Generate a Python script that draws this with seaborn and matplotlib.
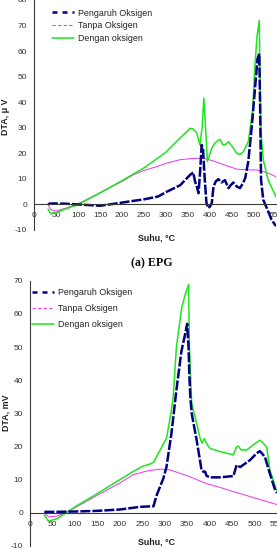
import matplotlib
matplotlib.use("Agg")
import matplotlib.pyplot as plt
from matplotlib.lines import Line2D
import seaborn as sns
import pandas as pd

# ---------------- data: panel (a) EPG ----------------
a_green_T = [32, 38, 50, 75, 101, 150, 200, 250, 286, 300, 332, 355, 362, 370, 377, 382, 386, 390, 394,
             404, 411, 418, 423, 429, 436, 442, 453, 461, 468, 476, 487, 497, 502, 507, 512, 514, 516,
             521, 532, 550]
a_green_v = [-1.8, -3.7, -3.2, -1.6, 0.0, 4.5, 9.3, 14.3, 18.7, 20.5, 26.0, 29.8, 29.5, 27.9, 23.3, 30.0,
             41.6, 30.0, 16.8, 22.0, 24.0, 25.0, 25.5, 23.3, 23.5, 24.6, 22.0, 20.0, 19.5, 20.7, 24.6,
             37.0, 54.0, 66.0, 72.0, 45.0, 28.0, 17.5, 9.6, 3.0]

a_mag_T = [32, 38, 50, 75, 101, 150, 200, 226, 250, 279, 302, 332, 360, 385, 408, 432, 461, 490, 506,
           520, 536, 550]
a_mag_v = [0.0, -2.0, -2.6, -1.3, 0.3, 4.6, 9.0, 11.6, 13.3, 14.8, 16.2, 17.5, 18.0, 18.1, 17.0, 15.5,
           13.8, 13.5, 13.5, 12.9, 12.0, 10.8]

a_navy_T = [32, 35, 44, 70, 100, 150, 180, 218, 250, 282, 302, 332, 355, 362, 366, 370, 374, 378, 381,
            384, 388, 392, 396, 400, 404, 408, 413, 419, 426, 434, 442, 447, 453, 461, 468, 474, 480,
            487, 495, 502, 508, 512, 514, 516, 521, 529, 540, 550]
a_navy_v = [0.0, 0.3, 0.4, 0.3, 0.0, -0.5, 0.2, 1.2, 2.0, 3.1, 5.0, 7.5, 11.6, 12.5, 9.0, 7.0, 4.4, 14.0,
            23.3, 22.0, 10.0, 0.5, -1.4, -0.8, 0.5, 7.0, 9.0, 9.9, 8.6, 9.5, 6.4, 7.5, 8.6, 7.0, 6.4,
            8.0, 10.3, 16.8, 30.5, 44.8, 57.0, 59.0, 37.0, 9.6, 1.8, -1.4, -6.0, -8.5]

# ---------------- data: panel (b) ----------------
b_green_T = [32, 41, 60, 80, 100, 150, 200, 230, 250, 265, 275, 290, 304, 315, 319, 326, 338, 346, 353,
             355, 360, 371, 379, 383, 388, 395, 401, 430, 453, 460, 464, 470, 482, 500, 512, 518, 527,
             534, 549]
b_green_v = [-0.7, -2.5, -1.8, 0.0, 1.8, 5.8, 10.0, 12.5, 14.0, 14.6, 15.2, 19.0, 22.5, 31.0, 35.0, 50.0,
             62.0, 66.0, 68.8, 50.0, 33.0, 27.0, 22.4, 21.0, 22.4, 20.5, 19.4, 18.2, 17.5, 19.9, 20.1,
             19.0, 18.9, 20.8, 21.9, 21.2, 19.9, 13.0, 6.8]

b_mag_T = [32, 41, 60, 80, 100, 150, 200, 230, 260, 290, 310, 350, 393, 420, 453, 500, 550]
b_mag_v = [0.0, -1.2, -1.0, 0.2, 1.5, 5.3, 9.0, 11.5, 12.6, 13.2, 13.0, 11.2, 8.8, 7.8, 6.4, 4.5, 2.5]

b_navy_T = [32, 60, 100, 150, 200, 245, 275, 282, 297, 304, 315, 326, 337, 344, 350, 353, 355, 357, 360,
            371, 379, 382, 386, 390, 393, 400, 423, 453, 460, 468, 490, 505, 512, 523, 534, 546, 550]
b_navy_v = [0.3, 0.3, 0.4, 0.6, 1.0, 1.8, 2.0, 5.3, 10.4, 13.9, 24.0, 37.0, 48.6, 53.0, 57.0, 50.0, 41.0,
            35.0, 30.0, 22.0, 15.4, 12.8, 12.4, 12.4, 11.2, 10.7, 10.7, 11.1, 14.4, 13.8, 15.9, 18.0,
            18.6, 16.9, 11.9, 6.8, 6.0]

series_labels = ["Pengaruh Oksigen", "Tanpa Oksigen", "Dengan oksigen"]
x_ticks = list(range(0, 551, 50))
a_yticks = list(range(-10, 81, 10))
b_yticks = list(range(-10, 71, 10))
a_ylabel = "DTA, \u03bc V"
b_ylabel = "DTA, mV"
x_label = "Suhu, \u00b0C"
caption_a = "(a) EPG"

# ---------------- styling ----------------
sns.set_style("white")
plt.rcParams["font.family"] = ["Liberation Sans", "DejaVu Sans"]

NAVY = "#000080"
MAG = "#f03cf0"
GREEN = "#1ee61e"
AX = "#3a3a3a"

W, H = 277, 560
fig = plt.figure(figsize=(W / 100, H / 100), dpi=100)

ax1 = fig.add_axes([34 / W, 1 - 230 / H, (276 - 34) / W, 230 / H])
ax2 = fig.add_axes([30 / W, 1 - 546 / H, (277 - 30) / W, (546 - 280.7) / H])


def draw(ax, gT, gv, mT, mv, nT, nv):
    sns.lineplot(x=mT, y=mv, ax=ax, color=MAG, linewidth=0.75, estimator=None, sort=False)
    sns.lineplot(x=gT, y=gv, ax=ax, color=GREEN, linewidth=1.1, estimator=None, sort=False)
    sns.lineplot(x=nT, y=nv, ax=ax, color=NAVY, linewidth=1.8, estimator=None, sort=False,
                 linestyle=(0, (4.0, 0.8)))


draw(ax1, a_green_T, a_green_v, a_mag_T, a_mag_v, a_navy_T, a_navy_v)
draw(ax2, b_green_T, b_green_v, b_mag_T, b_mag_v, b_navy_T, b_navy_v)

handles = [
    Line2D([], [], color=NAVY, linewidth=1.8, linestyle=(0, (2.0, 2.0))),
    Line2D([], [], color=MAG, linewidth=0.8, linestyle=(0, (3.0, 2.0))),
    Line2D([], [], color=GREEN, linewidth=1.1),
]

for ax, yt, ylim, lab, legpos, lsp in [
    (ax1, a_yticks, (-10, 80), a_ylabel, (52, 8.5), 0.42),
    (ax2, b_yticks, (-10, 70), b_ylabel, (32, 288.5), 0.75),
]:
    ax.set_xlim(0, 550)
    ax.set_ylim(*ylim)
    ax.set_xticks(x_ticks)
    ax.set_yticks(yt)
    ax.set_xticklabels([str(t) for t in x_ticks])
    ax.set_yticklabels([str(t) for t in yt])
    for s in ["top", "right"]:
        ax.spines[s].set_visible(False)
    ax.spines["bottom"].set_position(("data", 0))
    for s in ["left", "bottom"]:
        ax.spines[s].set_color(AX)
        ax.spines[s].set_linewidth(0.8)
    ax.tick_params(axis="both", which="major", direction="out", length=2.5, width=0.7,
                   color=AX, labelsize=6.0, labelcolor="#333333")
    ax.tick_params(axis="x", pad=3.2)
    ax.tick_params(axis="y", pad=2.5)
    ax.set_xlabel("")
    ax.set_ylabel("")
    ax.patch.set_alpha(0)
    leg = ax.legend(handles, series_labels, loc="upper left",
                    bbox_to_anchor=(legpos[0] / W, 1 - legpos[1] / H),
                    bbox_transform=fig.transFigure, frameon=False, fontsize=6.4,
                    handlelength=2.45, handletextpad=0.45, labelspacing=lsp,
                    borderpad=0, borderaxespad=0)
    for t in leg.get_texts():
        t.set_color("#222222")

# axis titles
fig.text(157 / W, 1 - 238 / H, x_label, ha="center", va="center", fontsize=6.4,
         fontweight="bold", color="#222222")
fig.text(156 / W, 1 - 542.5 / H, x_label, ha="center", va="center", fontsize=6.4,
         fontweight="bold", color="#222222")
fig.text(6 / W, 1 - 117 / H, a_ylabel, ha="center", va="center", rotation=90, fontsize=6.4,
         fontweight="bold", color="#222222")
fig.text(6 / W, 1 - 413 / H, b_ylabel, ha="center", va="center", rotation=90, fontsize=6.4,
         fontweight="bold", color="#222222")
fig.text(152 / W, 1 - 263 / H, caption_a, ha="center", va="center", fontsize=8.6,
         fontweight="bold", family=["Liberation Serif", "DejaVu Serif"], color="#111111")

fig.savefig("out.png", dpi=100)
